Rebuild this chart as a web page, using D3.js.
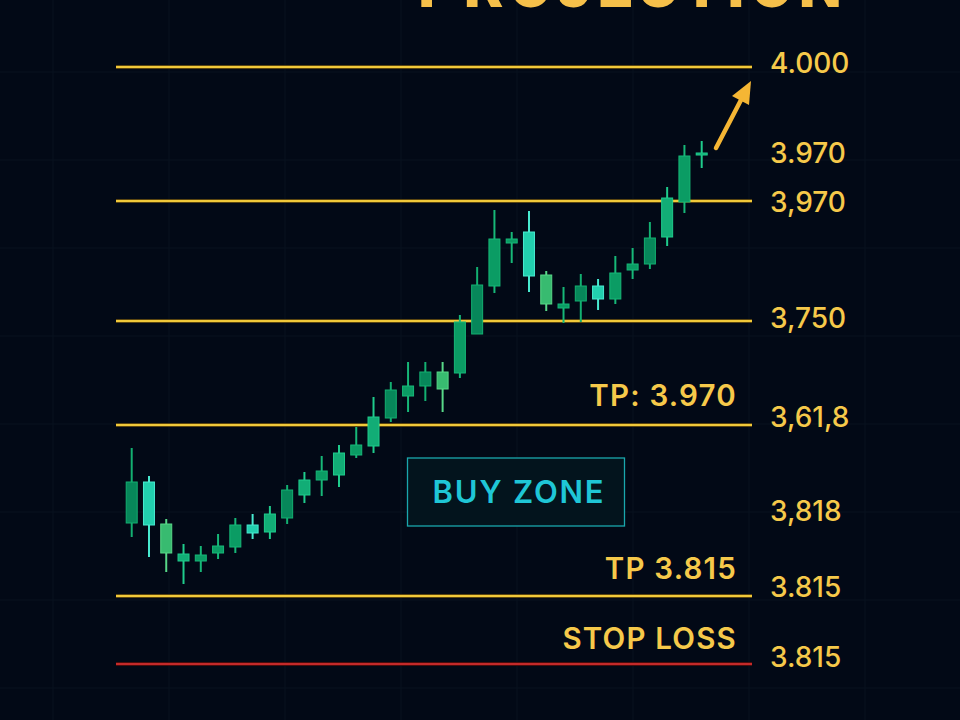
<!DOCTYPE html>
<html>
<head>
<meta charset="utf-8">
<script src="https://cdn.jsdelivr.net/npm/d3@7"></script>
<style>
  html, body { margin: 0; padding: 0; background: #020916; }
  svg { display: block; }
</style>
</head>
<body>
<svg id="chart" width="960" height="720"></svg>
<script>
// ---------- DATA ----------
const titleText = "PROJECTION";
const candleIndex = d3.range(1, 35);
const opens  = [3.772,3.771,3.757,3.753,3.753,3.757,3.760,3.767,3.7675,3.7745,3.786,3.7935,3.796,3.806,3.8105,3.8245,3.8355,3.8405,3.839,3.847,3.8665,3.8905,3.912,3.8955,3.8815,3.8795,3.883,3.884,3.884,3.8985,3.9015,3.915,3.9325,3.956];
const highs  = [3.8095,3.7955,3.774,3.7615,3.7605,3.7665,3.7745,3.7765,3.7805,3.791,3.7975,3.8055,3.811,3.820,3.835,3.8425,3.8525,3.8525,3.8525,3.876,3.900,3.9285,3.9175,3.928,3.898,3.890,3.8965,3.894,3.9055,3.9095,3.9225,3.940,3.961,3.963];
const lows   = [3.765,3.755,3.7475,3.7415,3.7475,3.754,3.757,3.764,3.764,3.7715,3.782,3.7855,3.790,3.8045,3.807,3.8225,3.8275,3.833,3.8275,3.8445,3.8665,3.887,3.902,3.8875,3.878,3.872,3.8725,3.8785,3.8815,3.894,3.899,3.9105,3.927,3.9495];
const closes = [3.7925,3.7925,3.7715,3.7565,3.756,3.7605,3.771,3.771,3.7765,3.7885,3.7935,3.798,3.807,3.811,3.825,3.8385,3.8405,3.8475,3.8475,3.8725,3.891,3.914,3.914,3.9175,3.896,3.8815,3.8905,3.8905,3.897,3.9015,3.9145,3.9345,3.9555,3.957];
const shades = ["deep","aqua","lime","bright","mid","mid","mid","aqua","bright","deep","bright","mid","bright","mid","bright","deep","mid","deep","lime","mid","deep","mid","mid","aqua","lime","mid","deep","aqua","mid","mid","deep","bright","mid","bright"];

// horizontal levels (value on the price scale) and their kind
const levelValues = [4.000, 3.933, 3.873, 3.821, 3.7355, 3.7015];
const levelKinds  = ["target","target","target","target","target","stop"];

// right-hand labels (text + price position)
const axisLabels    = ["4.000","3.970","3,970","3,750","3,61,8","3,818","3.815","3.815"];
const axisLabelVals = [4.002, 3.957, 3.9325, 3.8745, 3.825, 3.778, 3.740, 3.705];

// annotations
const noteTexts = ["TP: 3.970","TP 3.815","STOP LOSS"];
const noteVals  = [3.836, 3.7495, 3.7145];
const buyZoneText = "BUY ZONE";
const buyZoneRange = [3.8045, 3.7705];

// ---------- CHART ----------
const W = 960, H = 720;
const svg = d3.select("#chart");
const FONT = "Inter, Roboto, 'DejaVu Sans', sans-serif";

svg.append("rect").attr("width", W).attr("height", H).attr("fill", "#020916");

const y = d3.scaleLinear().domain([3.70, 4.00]).range([667, 67]);
const x = d3.scalePoint().domain(candleIndex).range([131.7, 701.7]);
const lineX0 = 116, lineX1 = 752;

// faint grid
const gridG = svg.append("g").attr("stroke", "#08121f").attr("stroke-width", 1);
gridG.selectAll("line.v").data(d3.range(53, W, 116)).join("line")
  .attr("x1", d => d).attr("x2", d => d).attr("y1", 0).attr("y2", H);
gridG.selectAll("line.h").data(d3.range(72, H, 88)).join("line")
  .attr("x1", 0).attr("x2", W).attr("y1", d => d).attr("y2", d => d);

// title (cut off at the top, as in the reference)
svg.append("text")
  .attr("x", 418).attr("y", 7)
  .attr("textLength", 424).attr("lengthAdjust", "spacing")
  .attr("font-family", "Roboto, 'DejaVu Sans', sans-serif")
  .attr("font-weight", 900).attr("font-size", 62)
  .attr("fill", "#f6c04a")
  .text(titleText);

// level lines
const levels = levelValues.map((v, i) => ({v, kind: levelKinds[i]}));
svg.append("g").selectAll("line").data(levels).join("line")
  .attr("x1", lineX0).attr("x2", lineX1)
  .attr("y1", d => y(d.v)).attr("y2", d => y(d.v))
  .attr("stroke", d => d.kind === "stop" ? "#4a0c0c" : "#5a4510")
  .attr("stroke-width", 4);
svg.append("g").selectAll("line").data(levels).join("line")
  .attr("x1", lineX0).attr("x2", lineX1)
  .attr("y1", d => y(d.v)).attr("y2", d => y(d.v))
  .attr("stroke", d => d.kind === "stop" ? "#c42a2a" : "#f1c93a")
  .attr("stroke-width", 2.2);

// buy zone box
const bz = svg.append("g");
bz.append("rect")
  .attr("x", 407.5).attr("y", y(buyZoneRange[0]))
  .attr("width", 217).attr("height", y(buyZoneRange[1]) - y(buyZoneRange[0]))
  .attr("fill", "#03141d").attr("stroke", "#1aa7ad").attr("stroke-width", 1.3);
bz.append("text")
  .attr("x", 519).attr("y", (y(buyZoneRange[0]) + y(buyZoneRange[1])) / 2)
  .attr("dy", "0.36em").attr("text-anchor", "middle")
  .attr("font-family", FONT).attr("font-weight", 600)
  .attr("font-size", 31).attr("letter-spacing", 1.8).attr("fill", "#1fc6d6")
  .text(buyZoneText);

// candles
const candles = candleIndex.map((k, i) => ({
  k, o: opens[i], h: highs[i], l: lows[i], c: closes[i], s: shades[i]
}));
const fillOf = d3.scaleOrdinal()
  .domain(["deep","mid","bright","lime","aqua"])
  .range(["#07875a","#0b9c64","#12ad76","#38bb70","#22cfae"]);
const edgeOf = d3.scaleOrdinal()
  .domain(["deep","mid","bright","lime","aqua"])
  .range(["#13b071","#17b878","#1fcc8c","#58d888","#48ead0"]);
const bodyW = 11;
const cg = svg.append("g").selectAll("g").data(candles).join("g");
cg.append("line")
  .attr("x1", d => x(d.k)).attr("x2", d => x(d.k))
  .attr("y1", d => y(d.h)).attr("y2", d => y(d.l))
  .attr("stroke", d => edgeOf(d.s)).attr("stroke-width", 2);
cg.append("rect")
  .attr("x", d => x(d.k) - bodyW / 2)
  .attr("y", d => y(Math.max(d.o, d.c)))
  .attr("width", bodyW)
  .attr("height", d => Math.max(2, Math.abs(y(d.o) - y(d.c))))
  .attr("fill", d => fillOf(d.s))
  .attr("stroke", d => edgeOf(d.s)).attr("stroke-width", 1);

// arrow
const arrowG = svg.append("g");
arrowG.append("line")
  .attr("x1", 716).attr("y1", 148).attr("x2", 741).attr("y2", 100)
  .attr("stroke", "#f5b634").attr("stroke-width", 4.5).attr("stroke-linecap", "round");
arrowG.append("path")
  .attr("d", "M751,81 L732,96 L749,105 Z")
  .attr("fill", "#f5b634");

// right labels
svg.append("g").selectAll("text").data(axisLabels).join("text")
  .attr("x", 770).attr("y", (d, i) => y(axisLabelVals[i]))
  .attr("dy", "0.36em")
  .attr("font-family", FONT).attr("font-weight", 500)
  .attr("font-size", 28).attr("fill", "#f6c94a")
  .text(d => d);

// annotations
svg.append("g").selectAll("text").data(noteTexts).join("text")
  .attr("x", 737).attr("y", (d, i) => y(noteVals[i]))
  .attr("dy", "0.36em").attr("text-anchor", "end")
  .attr("font-family", FONT).attr("font-weight", 600)
  .attr("font-size", 29.5).attr("letter-spacing", 1.2).attr("fill", "#f6c94a")
  .text(d => d);
</script>
</body>
</html>
